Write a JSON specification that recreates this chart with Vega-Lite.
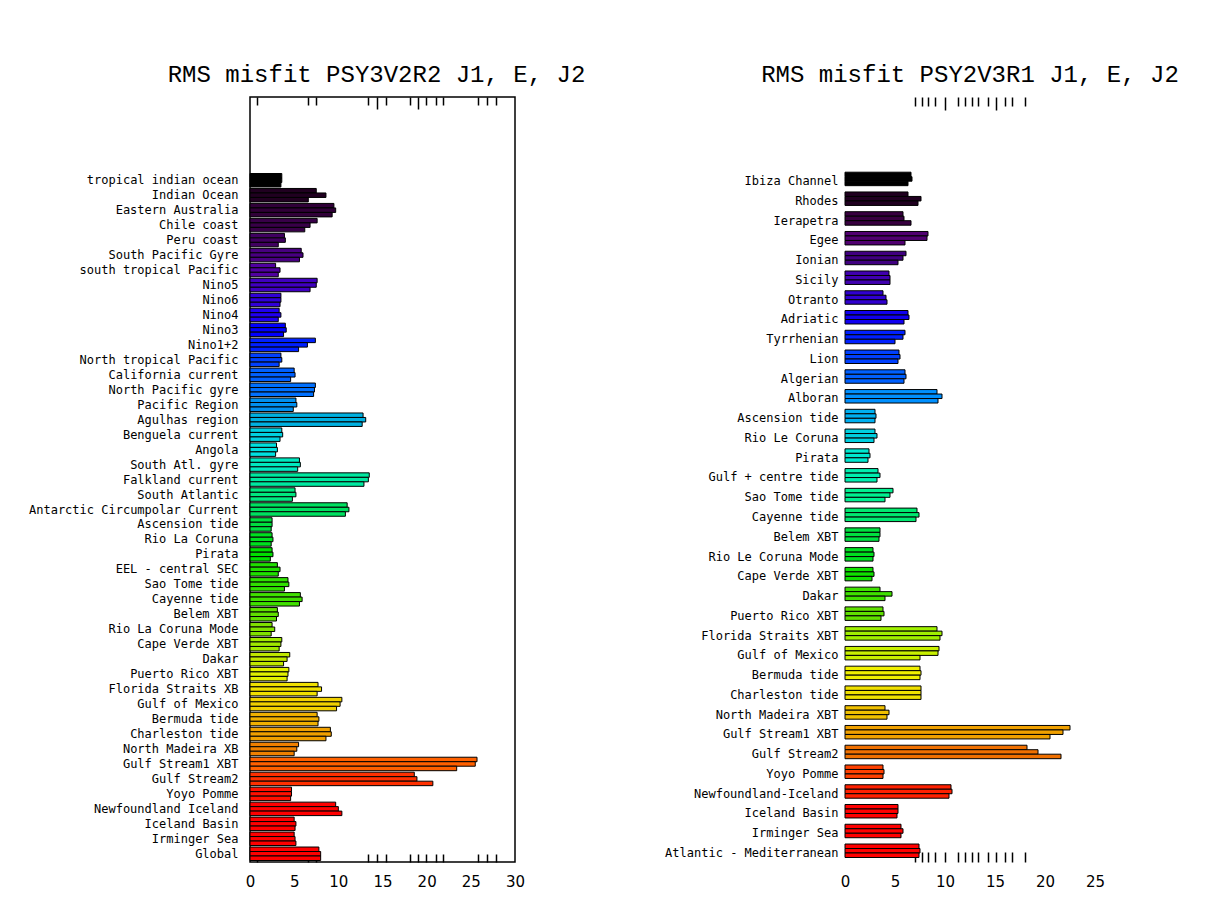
{
  "$schema": "https://vega.github.io/schema/vega-lite/v6.json",
  "background": "white",
  "padding": {"left": 27, "top": 62, "right": 5, "bottom": 5},
  "autosize": {"type": "pad"},
  "bounds": "flush",
  "spacing": 330,
  "datasets": {
    "left": [
      {"r": "tropical indian ocean", "i": 1, "J1": 3.6, "E": 3.6, "J2": 3.5},
      {"r": "Indian Ocean", "i": 2, "J1": 7.5, "E": 8.6, "J2": 6.6},
      {"r": "Eastern Australia", "i": 3, "J1": 9.5, "E": 9.7, "J2": 9.3},
      {"r": "Chile coast", "i": 4, "J1": 7.6, "E": 6.8, "J2": 6.2},
      {"r": "Peru coast", "i": 5, "J1": 3.9, "E": 4.0, "J2": 3.2},
      {"r": "South Pacific Gyre", "i": 6, "J1": 5.8, "E": 6.0, "J2": 5.6},
      {"r": "south tropical Pacific", "i": 7, "J1": 2.9, "E": 3.4, "J2": 3.2},
      {"r": "Nino5", "i": 8, "J1": 7.6, "E": 7.5, "J2": 6.8},
      {"r": "Nino6", "i": 9, "J1": 3.5, "E": 3.5, "J2": 3.4},
      {"r": "Nino4", "i": 10, "J1": 3.3, "E": 3.5, "J2": 3.2},
      {"r": "Nino3", "i": 11, "J1": 4.0, "E": 4.1, "J2": 3.8},
      {"r": "Nino1+2", "i": 12, "J1": 7.4, "E": 6.5, "J2": 5.5},
      {"r": "North tropical Pacific", "i": 13, "J1": 3.5, "E": 3.6, "J2": 3.3},
      {"r": "California current", "i": 14, "J1": 5.0, "E": 5.1, "J2": 4.6},
      {"r": "North Pacific gyre", "i": 15, "J1": 7.4, "E": 7.3, "J2": 7.2},
      {"r": "Pacific Region", "i": 16, "J1": 5.2, "E": 5.3, "J2": 4.9},
      {"r": "Agulhas region", "i": 17, "J1": 12.8, "E": 13.1, "J2": 12.7},
      {"r": "Benguela current", "i": 18, "J1": 3.6, "E": 3.7, "J2": 3.4},
      {"r": "Angola", "i": 19, "J1": 3.0, "E": 3.1, "J2": 2.9},
      {"r": "South Atl. gyre", "i": 20, "J1": 5.6, "E": 5.7, "J2": 5.4},
      {"r": "Falkland current", "i": 21, "J1": 13.5, "E": 13.4, "J2": 12.9},
      {"r": "South Atlantic", "i": 22, "J1": 5.1, "E": 5.2, "J2": 4.8},
      {"r": "Antarctic Circumpolar Current", "i": 23, "J1": 11.0, "E": 11.2, "J2": 10.8},
      {"r": "Ascension tide", "i": 24, "J1": 2.5, "E": 2.5, "J2": 2.4},
      {"r": "Rio La Coruna", "i": 25, "J1": 2.5, "E": 2.6, "J2": 2.4},
      {"r": "Pirata", "i": 26, "J1": 2.5, "E": 2.6, "J2": 2.3},
      {"r": "EEL - central SEC", "i": 27, "J1": 3.1, "E": 3.4, "J2": 3.2},
      {"r": "Sao Tome tide", "i": 28, "J1": 4.3, "E": 4.4, "J2": 3.9},
      {"r": "Cayenne tide", "i": 29, "J1": 5.7, "E": 5.9, "J2": 5.6},
      {"r": "Belem XBT", "i": 30, "J1": 3.1, "E": 3.2, "J2": 3.0},
      {"r": "Rio La Coruna Mode", "i": 31, "J1": 2.5, "E": 2.8, "J2": 2.4},
      {"r": "Cape Verde XBT", "i": 32, "J1": 3.6, "E": 3.5, "J2": 3.3},
      {"r": "Dakar", "i": 33, "J1": 4.5, "E": 4.2, "J2": 3.8},
      {"r": "Puerto Rico XBT", "i": 34, "J1": 4.4, "E": 4.3, "J2": 4.2},
      {"r": "Florida Straits XB", "i": 35, "J1": 7.7, "E": 8.1, "J2": 7.6},
      {"r": "Gulf of Mexico", "i": 36, "J1": 10.4, "E": 10.2, "J2": 9.8},
      {"r": "Bermuda tide", "i": 37, "J1": 7.6, "E": 7.8, "J2": 7.7},
      {"r": "Charleston tide", "i": 38, "J1": 9.1, "E": 9.2, "J2": 8.6},
      {"r": "North Madeira XB", "i": 39, "J1": 5.5, "E": 5.3, "J2": 5.0},
      {"r": "Gulf Stream1 XBT", "i": 40, "J1": 25.7, "E": 25.5, "J2": 23.4},
      {"r": "Gulf Stream2", "i": 41, "J1": 18.6, "E": 18.9, "J2": 20.7},
      {"r": "Yoyo Pomme", "i": 42, "J1": 4.7, "E": 4.7, "J2": 4.6},
      {"r": "Newfoundland Iceland", "i": 43, "J1": 9.7, "E": 10.0, "J2": 10.4},
      {"r": "Iceland Basin", "i": 44, "J1": 5.0, "E": 5.2, "J2": 5.1},
      {"r": "Irminger Sea", "i": 45, "J1": 5.0, "E": 5.1, "J2": 5.2},
      {"r": "Global", "i": 46, "J1": 7.8, "E": 8.0, "J2": 8.0}
    ],
    "right": [
      {"r": "Ibiza Channel", "i": 1, "J1": 6.6, "E": 6.7, "J2": 6.3},
      {"r": "Rhodes", "i": 2, "J1": 6.3, "E": 7.6, "J2": 7.3},
      {"r": "Ierapetra", "i": 3, "J1": 5.8, "E": 5.9, "J2": 6.6},
      {"r": "Egee", "i": 4, "J1": 8.3, "E": 8.2, "J2": 6.0},
      {"r": "Ionian", "i": 5, "J1": 6.1, "E": 5.8, "J2": 5.3},
      {"r": "Sicily", "i": 6, "J1": 4.4, "E": 4.5, "J2": 4.5},
      {"r": "Otranto", "i": 7, "J1": 3.8, "E": 4.1, "J2": 4.2},
      {"r": "Adriatic", "i": 8, "J1": 6.3, "E": 6.4, "J2": 5.9},
      {"r": "Tyrrhenian", "i": 9, "J1": 6.0, "E": 5.8, "J2": 5.0},
      {"r": "Lion", "i": 10, "J1": 5.4, "E": 5.5, "J2": 5.3},
      {"r": "Algerian", "i": 11, "J1": 6.0, "E": 6.1, "J2": 5.9},
      {"r": "Alboran", "i": 12, "J1": 9.2, "E": 9.7, "J2": 9.3},
      {"r": "Ascension tide", "i": 13, "J1": 3.0, "E": 3.1, "J2": 3.0},
      {"r": "Rio Le Coruna", "i": 14, "J1": 3.0, "E": 3.2, "J2": 2.9},
      {"r": "Pirata", "i": 15, "J1": 2.4, "E": 2.5, "J2": 2.3},
      {"r": "Gulf + centre tide", "i": 16, "J1": 3.3, "E": 3.5, "J2": 3.2},
      {"r": "Sao Tome tide", "i": 17, "J1": 4.8, "E": 4.5, "J2": 4.0},
      {"r": "Cayenne tide", "i": 18, "J1": 7.2, "E": 7.4, "J2": 7.1},
      {"r": "Belem XBT", "i": 19, "J1": 3.5, "E": 3.5, "J2": 3.4},
      {"r": "Rio Le Coruna Mode", "i": 20, "J1": 2.8, "E": 2.9, "J2": 2.8},
      {"r": "Cape Verde XBT", "i": 21, "J1": 2.8, "E": 2.9, "J2": 2.7},
      {"r": "Dakar", "i": 22, "J1": 3.5, "E": 4.7, "J2": 4.0},
      {"r": "Puerto Rico XBT", "i": 23, "J1": 3.8, "E": 3.9, "J2": 3.6},
      {"r": "Florida Straits XBT", "i": 24, "J1": 9.2, "E": 9.7, "J2": 9.5},
      {"r": "Gulf of Mexico", "i": 25, "J1": 9.4, "E": 9.3, "J2": 7.5},
      {"r": "Bermuda tide", "i": 26, "J1": 7.5, "E": 7.6, "J2": 7.5},
      {"r": "Charleston tide", "i": 27, "J1": 7.6, "E": 7.6, "J2": 7.6},
      {"r": "North Madeira XBT", "i": 28, "J1": 4.0, "E": 4.4, "J2": 4.2},
      {"r": "Gulf Stream1 XBT", "i": 29, "J1": 22.5, "E": 21.8, "J2": 20.5},
      {"r": "Gulf Stream2", "i": 30, "J1": 18.2, "E": 19.3, "J2": 21.6},
      {"r": "Yoyo Pomme", "i": 31, "J1": 3.8, "E": 3.9, "J2": 3.8},
      {"r": "Newfoundland-Iceland", "i": 32, "J1": 10.6, "E": 10.7, "J2": 10.4},
      {"r": "Iceland Basin", "i": 33, "J1": 5.3, "E": 5.3, "J2": 5.2},
      {"r": "Irminger Sea", "i": 34, "J1": 5.6, "E": 5.8, "J2": 5.6},
      {"r": "Atlantic - Mediterranean", "i": 35, "J1": 7.4, "E": 7.5, "J2": 7.4}
    ]
  },
  "hconcat": [
    {
      "data": {"name": "left"},
      "width": 265,
      "height": 765,
      "view": {"stroke": "black", "strokeWidth": 1.5},
      "title": {"text": "RMS misfit PSY3V2R2 J1, E, J2", "font": "Liberation Mono", "fontSize": 24, "fontWeight": "normal", "color": "black", "dx": -6, "offset": 9},
      "transform": [{"fold": ["J1", "E", "J2"], "as": ["run", "v"]}],
      "resolve": {"axis": {"x": "independent"}},
      "layer": [
        {
          "mark": {"type": "bar", "stroke": "black", "strokeWidth": 1, "orient": "horizontal"},
          "encoding": {
            "y": {"field": "r", "type": "nominal", "sort": {"field": "i", "op": "min"},
              "scale": {"range": [76.5, 763.5], "paddingInner": 0.1, "paddingOuter": 0},
              "axis": {"title": null, "domain": false, "ticks": false, "labelPadding": 12, "labelLimit": 400, "labelFont": "DejaVu Sans Mono", "labelFontSize": 12, "labelColor": "black"}},
            "yOffset": {"field": "run", "type": "nominal", "sort": ["J1", "E", "J2"]},
            "x": {"field": "v", "type": "quantitative", "scale": {"domain": [0, 30], "nice": false},
              "axis": {"orient": "bottom", "title": null, "domain": false, "grid": false, "labelFlush": false, "labelOverlap": false,
                "values": [0, 5, 10, 15, 20, 25, 30, 0.8, 6.6, 7.5, 13.4, 14.4, 15.4, 18.1, 19.0, 19.9, 21.1, 21.9, 25.8, 26.8, 27.9],
                "labelExpr": "datum.value % 5 == 0 ? datum.label : ''",
                "tickSize": {"condition": {"test": "datum.value % 5 == 0", "value": 0}, "value": -8},
                "tickColor": "black", "tickWidth": 1.5, "labelPadding": 12,
                "labelFont": "DejaVu Sans", "labelFontSize": 15, "labelColor": "black"}},
            "color": {"field": "i", "type": "ordinal", "legend": null,
              "scale": {"range": ["#000000", "#200020", "#300038", "#380048", "#400060", "#480080", "#5000a0", "#4000c0", "#3000d8", "#2000f0", "#0000ff", "#0020ff", "#0040ff", "#0060ff", "#0070ff", "#0090f0", "#00b0e0", "#00d0e0", "#00e0e0", "#00e8c0", "#00e8a0", "#00e880", "#00e060", "#00e040", "#00e020", "#00e000", "#20e000", "#30e000", "#40e000", "#60e000", "#80e000", "#a0e800", "#c0e800", "#e0f000", "#f0e000", "#f0d000", "#f0b000", "#f0a000", "#f08000", "#ff6000", "#ff3000", "#ff1000", "#ff0000", "#ff0000", "#ff0000", "#ff0000"]}}
          }
        },
        {
          "mark": {"type": "point", "opacity": 0},
          "encoding": {
            "y": {"field": "r", "type": "nominal", "sort": {"field": "i", "op": "min"}},
            "x": {"field": "v", "type": "quantitative",
              "axis": {"orient": "top", "title": null, "domain": false, "grid": false, "labels": false,
                "values": [0.8, 6.6, 7.5, 13.4, 14.4, 15.4, 18.1, 19.0, 19.9, 21.1, 21.9, 25.8, 26.8, 27.9],
                "tickSize": {"condition": {"test": "datum.value == 14.4 || datum.value == 19.0", "value": -12}, "value": -8},
                "tickColor": "black", "tickWidth": 1.5}}
          }
        }
      ]
    },
    {
      "data": {"name": "right"},
      "width": 250,
      "height": 765,
      "view": {"stroke": null},
      "title": {"text": "RMS misfit PSY2V3R1 J1, E, J2", "font": "Liberation Mono", "fontSize": 24, "fontWeight": "normal", "color": "black", "offset": 9},
      "transform": [{"fold": ["J1", "E", "J2"], "as": ["run", "v"]}],
      "resolve": {"axis": {"x": "independent"}},
      "layer": [
        {
          "mark": {"type": "bar", "stroke": "black", "strokeWidth": 1, "orient": "horizontal"},
          "encoding": {
            "y": {"field": "r", "type": "nominal", "sort": {"field": "i", "op": "min"},
              "scale": {"range": [75.2, 764.8], "paddingInner": 0.1, "paddingOuter": 0},
              "axis": {"title": null, "domain": false, "ticks": false, "labelPadding": 7, "labelLimit": 400, "labelFont": "DejaVu Sans Mono", "labelFontSize": 12, "labelColor": "black"}},
            "yOffset": {"field": "run", "type": "nominal", "sort": ["J1", "E", "J2"]},
            "x": {"field": "v", "type": "quantitative", "scale": {"domain": [0, 25], "nice": false},
              "axis": {"orient": "bottom", "title": null, "domain": false, "grid": false, "labelFlush": false, "labelOverlap": false,
                "values": [0, 5, 10, 15, 20, 25, 7.0, 7.67, 8.33, 9.0, 10.02, 11.33, 12.0, 12.67, 13.33, 14.33, 15.1, 16.0, 16.67, 18.0],
                "labelExpr": "datum.value % 5 == 0 ? datum.label : ''",
                "tickSize": {"condition": {"test": "datum.value % 5 == 0", "value": 0}, "value": -10},
                "tickColor": "black", "tickWidth": 1.5, "labelPadding": 12,
                "labelFont": "DejaVu Sans", "labelFontSize": 15, "labelColor": "black"}},
            "color": {"field": "i", "type": "ordinal", "legend": null,
              "scale": {"range": ["#000000", "#200020", "#380040", "#500070", "#400080", "#4000b0", "#3000d0", "#1000f0", "#0020ff", "#0040ff", "#0060ff", "#0090ff", "#00b0f0", "#00d0e0", "#00e8d0", "#00f0b0", "#00f090", "#00e870", "#00e040", "#00e020", "#10e000", "#40e000", "#60e000", "#a0f000", "#c8f000", "#f0f000", "#f0e000", "#f0c000", "#f0a000", "#f07000", "#ff4000", "#ff2000", "#ff0000", "#ff0000", "#ff0000"]}}
          }
        },
        {
          "mark": {"type": "point", "opacity": 0},
          "encoding": {
            "y": {"field": "r", "type": "nominal", "sort": {"field": "i", "op": "min"}},
            "x": {"field": "v", "type": "quantitative",
              "axis": {"orient": "top", "title": null, "domain": false, "grid": false, "labels": false,
                "values": [7.0, 7.67, 8.33, 9.0, 10.0, 11.33, 12.0, 12.67, 13.33, 14.33, 15.1, 16.0, 16.67, 18.0],
                "tickSize": {"condition": {"test": "datum.value == 10 || datum.value == 15.1", "value": -13}, "value": -9},
                "tickColor": "black", "tickWidth": 1.5}}
          }
        }
      ]
    }
  ],
  "resolve": {"scale": {"color": "independent", "y": "independent", "x": "independent"}},
  "config": {
    "view": {"stroke": null},
    "axis": {"domainColor": "black", "tickColor": "black"}
  }
}
